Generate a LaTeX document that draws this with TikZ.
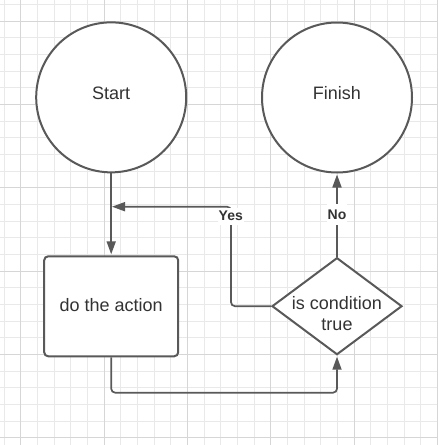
\documentclass[tikz,border=0pt]{standalone}
\usepackage{fontspec}
\setmainfont{Liberation Sans}
\usetikzlibrary{arrows.meta,shapes.geometric}
\definecolor{gridminor}{RGB}{233,233,233}
\definecolor{gridmajor}{RGB}{214,214,214}
\definecolor{strokegray}{RGB}{89,89,89}
\definecolor{txtgray}{RGB}{51,51,51}
\begin{document}
\begin{tikzpicture}[x=1pt,y=-1pt,
  shapebox/.style={draw=strokegray, line width=2pt, fill=white, text=txtgray,
    font=\fontsize{18}{21.6}\selectfont, inner sep=0pt},
  termcircle/.style={shapebox, circle, minimum size=150pt, text height=13pt, text depth=9pt},
  actbox/.style={shapebox, rectangle, rounded corners=4pt, minimum width=134pt,
    minimum height=100pt, text height=13pt, text depth=2.2pt},
  decbox/.style={shapebox, diamond, minimum width=130pt, minimum height=97pt},
  bodytext/.style={text=txtgray, font=\fontsize{18}{21.6}\selectfont, align=center, inner sep=0pt},
  conn/.style={draw=strokegray, line width=1.7pt, rounded corners=4pt,
    -{Triangle[length=13pt,width=9pt]}, shorten >=1pt},
  edgelabel/.style={fill=white, text=txtgray, font=\fontsize{14}{16.8}\selectfont\bfseries,
    inner xsep=1pt, text height=10pt}
]
\useasboundingbox (0,0) rectangle (438,445);
\fill[white] (0,0) rectangle (438,445);
% grid
\foreach \k in {0,...,26}{
  \draw[gridminor, line width=1pt] ({4+16.667*\k},0) -- ({4+16.667*\k},445);
  \draw[gridminor, line width=1pt] (0,{4.5+16.667*\k}) -- (438,{4.5+16.667*\k});
}
\foreach \k in {1,6,11,16,21,26}{
  \draw[gridmajor, line width=1pt] ({4+16.667*\k},0) -- ({4+16.667*\k},445);
  \draw[gridmajor, line width=1pt] (0,{4.5+16.667*\k}) -- (438,{4.5+16.667*\k});
}
% nodes
\node[termcircle] (start) at (111.2,97.35) {Start};
\node[termcircle] (finish) at (337,97.5) {Finish};
\node[actbox] (action) at (111.2,306.3) {do the action};
\node[decbox] (cond) at (337,306.2) {};
\node[bodytext] (condtext) at (337,313.5) {is condition\\true};
\coordinate (yesend) at (111,206.7);
% connectors
\draw[conn] (start) -- (action);
\draw[conn] (cond) -- (finish);
\draw[conn] (cond.west) -- ++(-40,0) |- (yesend);
\draw[conn] (action.south) -- ++(0,35.4) -| (cond.south);
% labels
\node[edgelabel, text depth=3pt, inner ysep=2pt] (yeslab) at (230.8,216.5) {Yes};
\node[edgelabel, text depth=1.4pt, inner ysep=4.6pt] (nolab) at (337,214.7) {No};
\end{tikzpicture}
\end{document}
